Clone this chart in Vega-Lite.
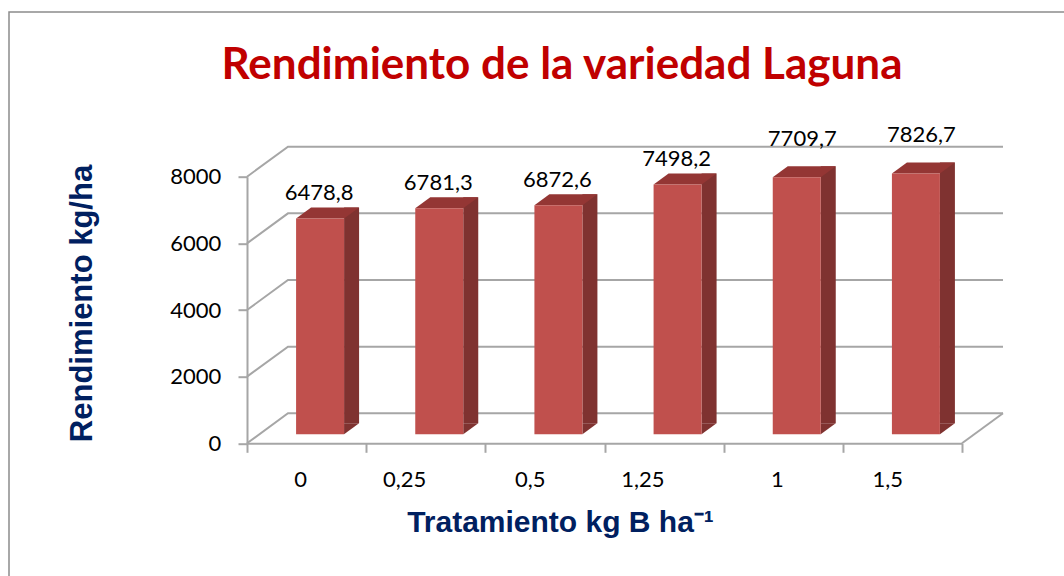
{
  "$schema": "https://vega.github.io/schema/vega-lite/v6.json",
  "autosize": "none",
  "width": 715,
  "height": 266.6,
  "padding": {"left": 247, "top": 176.7, "right": 102, "bottom": 132.7},
  "background": "white",
  "config": {
    "view": {"stroke": null},
    "locale": {"number": {"decimal": ",", "thousands": ".", "grouping": [3], "currency": ["", " €"]}}
  },
  "title": {
    "text": "Rendimiento de la variedad Laguna",
    "font": "Lato",
    "fontSize": 44,
    "fontWeight": "bold",
    "color": "#C00000",
    "anchor": "middle",
    "frame": "group",
    "dx": -42.5,
    "baseline": "alphabetic",
    "offset": -114
  },
  "datasets": {
    "yield": [
      {"t": "0", "v": 6478.8},
      {"t": "0,25", "v": 6781.3},
      {"t": "0,5", "v": 6872.6},
      {"t": "1,25", "v": 7498.2},
      {"t": "1", "v": 7709.7},
      {"t": "1,5", "v": 7826.7}
    ],
    "grid": [{"g": 0}, {"g": 2000}, {"g": 4000}, {"g": 6000}, {"g": 8000}]
  },
  "layer": [
    {
      "data": {"values": [{}]},
      "mark": {"type": "point", "shape": "M-238,-164.7L823,-164.7L823,406L-238,406Z", "size": 4, "filled": false, "stroke": "#8C8C8C", "strokeWidth": 1.5, "opacity": 1},
      "encoding": {
        "x": {"datum": "0", "type": "nominal", "bandPosition": 0},
        "y": {"datum": 8000, "type": "quantitative"}
      }
    },
    {
      "data": {"name": "grid"},
      "mark": {"type": "point", "shape": "M0,0L41,-30L756,-30", "size": 4, "filled": false, "stroke": "#A6A6A6", "strokeWidth": 2, "opacity": 1},
      "encoding": {
        "x": {"datum": "0", "type": "nominal", "bandPosition": 0},
        "y": {"field": "g", "type": "quantitative"}
      }
    },
    {
      "data": {"values": [{}]},
      "mark": {"type": "point", "shape": "M0,0L41,-30", "size": 4, "filled": false, "stroke": "#A6A6A6", "strokeWidth": 2, "opacity": 1},
      "encoding": {
        "x": {"datum": "1,5", "type": "nominal", "bandPosition": 1},
        "y": {"datum": 0, "type": "quantitative"}
      }
    },
    {
      "data": {"name": "yield"},
      "mark": {"type": "bar", "width": 15, "xOffset": 45, "yOffset": -20, "y2Offset": -20, "color": "#7F3230"},
      "encoding": {
        "x": {"field": "t", "type": "nominal"},
        "y": {"field": "v", "type": "quantitative"}
      }
    },
    {
      "data": {"name": "yield"},
      "mark": {"type": "point", "shape": "M37.5,-9L37.5,-20L52.5,-20Z", "size": 4, "filled": true, "color": "#7F3230", "opacity": 1},
      "encoding": {
        "x": {"field": "t", "type": "nominal"},
        "y": {"datum": 0, "type": "quantitative"}
      }
    },
    {
      "data": {"name": "yield"},
      "mark": {"type": "point", "shape": "M-10.5,-9L37.5,-9L52.5,-20L4.5,-20Z", "size": 4, "filled": true, "color": "#943634", "opacity": 1},
      "encoding": {
        "x": {"field": "t", "type": "nominal"},
        "y": {"field": "v", "type": "quantitative"}
      }
    },
    {
      "data": {"name": "yield"},
      "mark": {"type": "bar", "width": 48, "xOffset": 13.5, "yOffset": -9, "y2Offset": -9, "color": "#C0504D"},
      "encoding": {
        "x": {
          "field": "t",
          "type": "nominal",
          "scale": {"domain": ["0", "0,25", "0,5", "1,25", "1", "1,5"], "paddingInner": 0, "paddingOuter": 0},
          "axis": {
            "title": "Tratamiento kg B ha⁻¹",
            "titleFont": "Liberation Sans",
            "titleFontSize": 30,
            "titleFontWeight": "bold",
            "titleColor": "#002060",
            "titleX": 313,
            "titleY": 88.4,
            "titleBaseline": "alphabetic",
            "titleAlign": "center",
            "labelFont": "Lato",
            "labelFontSize": 22,
            "labelColor": "#000000",
            "labelAngle": 0,
            "labelBaseline": "alphabetic",
            "labelPadding": 34.4,
            "tickBand": "extent",
            "tickSize": 9,
            "tickColor": "#A6A6A6",
            "tickWidth": 2,
            "domainColor": "#A6A6A6",
            "domainWidth": 2,
            "grid": false
          }
        },
        "y": {
          "field": "v",
          "type": "quantitative",
          "scale": {"domain": [0, 8000], "nice": false},
          "axis": {
            "title": "Rendimiento kg/ha",
            "titleFont": "Liberation Sans",
            "titleFontSize": 31,
            "titleFontWeight": "bold",
            "titleColor": "#002060",
            "titleX": -155.5,
            "titleY": 126.3,
            "titleAngle": 270,
            "titleBaseline": "alphabetic",
            "titleAlign": "center",
            "values": [0, 2000, 4000, 6000, 8000],
            "format": "d",
            "labelFont": "Lato",
            "labelFontSize": 22,
            "labelColor": "#000000",
            "labelPadding": 17.3,
            "tickSize": 9,
            "tickColor": "#A6A6A6",
            "tickWidth": 2,
            "domainColor": "#A6A6A6",
            "domainWidth": 2,
            "grid": false
          }
        }
      }
    },
    {
      "data": {"name": "yield"},
      "transform": [{"filter": "datum.v < 7600"}],
      "mark": {"type": "text", "font": "Lato", "fontSize": 22, "color": "#000000", "align": "center", "baseline": "alphabetic", "dx": 12.5, "dy": -27},
      "encoding": {
        "x": {"field": "t", "type": "nominal"},
        "y": {"field": "v", "type": "quantitative"},
        "text": {"field": "v", "type": "quantitative", "format": ".1f"}
      }
    },
    {
      "data": {"name": "yield"},
      "transform": [{"filter": "datum.v >= 7600"}],
      "mark": {"type": "text", "font": "Lato", "fontSize": 22, "color": "#000000", "align": "center", "baseline": "alphabetic", "dx": 19, "dy": -40},
      "encoding": {
        "x": {"field": "t", "type": "nominal"},
        "y": {"field": "v", "type": "quantitative"},
        "text": {"field": "v", "type": "quantitative", "format": ".1f"}
      }
    }
  ]
}
